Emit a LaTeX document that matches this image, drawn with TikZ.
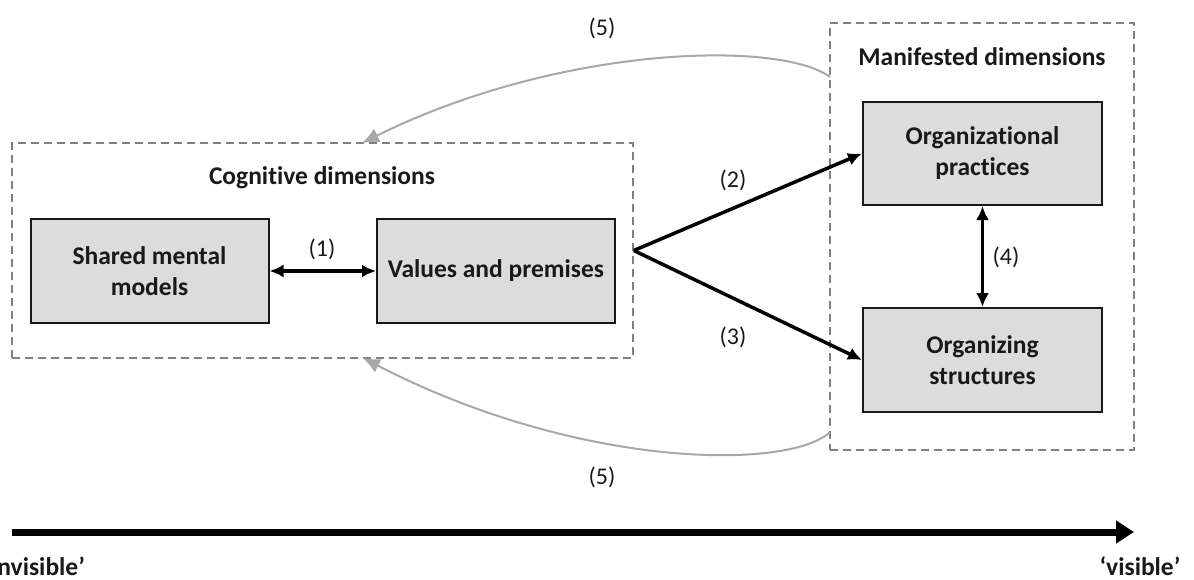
\documentclass[tikz,border=0pt]{standalone}
\usepackage{fontspec}
\setmainfont{Carlito}[Ligatures={TeX,NoCommon}]
\usetikzlibrary{arrows.meta}
\definecolor{boxfill}{RGB}{220,220,220}
\definecolor{dashgray}{RGB}{128,128,128}
\definecolor{loopgray}{RGB}{168,168,168}
\definecolor{ink}{RGB}{25,25,25}
\begin{document}
\begin{tikzpicture}[x=1pt,y=-1pt,
  dimbox/.style={draw=dashgray, dash pattern=on 8pt off 5pt, line width=1.6pt, inner sep=0pt},
  concept/.style={draw=ink, fill=boxfill, line width=2pt, align=center, text=ink,
    font=\bfseries\fontsize{25.5}{31}\selectfont},
  heading/.style={text=ink, font=\bfseries\fontsize{25.5}{30}\selectfont},
  numlabel/.style={text=ink, font=\fontsize{24}{28}\selectfont},
  link/.style={draw=black, line width=3.5pt, -{Latex[length=14pt,width=13pt]}},
  twoway/.style={draw=black, line width=3.5pt, {Latex[length=14pt,width=13pt]}-{Latex[length=14pt,width=13pt]}},
  feedback/.style={draw=loopgray, line width=2pt, -{Latex[length=17pt,width=15pt]}},
  axis/.style={draw=black, line width=7pt, -{Triangle[length=18pt,width=22pt]}}
]
\useasboundingbox (0,0) rectangle (1194,579);

% dashed groups
\node[dimbox, minimum width=621pt, minimum height=215pt] (cog) at (322.5,250.5) {};
\node[dimbox, minimum width=304pt, minimum height=427pt] (man) at (982,236.5) {};
\node[heading] (cogtitle) at (322,178) {Cognitive dimensions};
\node[heading] (mantitle) at (982,57) {Manifested dimensions};

% concept boxes
\node[concept, minimum width=238pt, minimum height=104pt] (smm) at (149.5,271) {Shared mental\\models};
\node[concept, minimum width=238pt, minimum height=104pt] (vp) at (496,271) {Values and premises};
\node[concept, minimum width=239pt, minimum height=103pt] (op) at (982.5,153.5) {Organizational\\practices};
\node[concept, minimum width=239pt, minimum height=104pt] (os) at (982.5,360) {Organizing\\structures};

% relations
\draw[twoway] (smm.east) -- (vp.west);
\draw[twoway] (op.south) -- (os.north);
\draw[link] (cog.east) -- (op.west);
\draw[link] (cog.east) -- (os.west);

% feedback loops back to the cognitive dimensions
\coordinate (fbtopstart) at (830,77);
\coordinate (fbtopend) at (362,143);
\coordinate (fbbotstart) at (830,432);
\coordinate (fbbotend) at (363,358);
\draw[feedback] (fbtopstart) .. controls (780,40) and (560,45) .. (fbtopend);
\draw[feedback] (fbbotstart) .. controls (790,470) and (580,470) .. (fbbotend);

% numbered labels
\node[numlabel] (l1) at (322,249) {(1)};
\node[numlabel] (l2) at (733,180) {(2)};
\node[numlabel] (l3) at (733,337) {(3)};
\node[numlabel] (l4) at (1006,257) {(4)};
\node[numlabel] (l5a) at (602,28) {(5)};
\node[numlabel] (l5b) at (602,477) {(5)};

% visibility axis
\coordinate (axstart) at (12,532);
\coordinate (axend) at (1134,532);
\draw[axis] (axstart) -- (axend);
\node[heading, anchor=west] (inv) at (-19,566) {‘invisible’};
\node[heading] (vis) at (1140,566) {‘visible’};
\end{tikzpicture}
\end{document}
